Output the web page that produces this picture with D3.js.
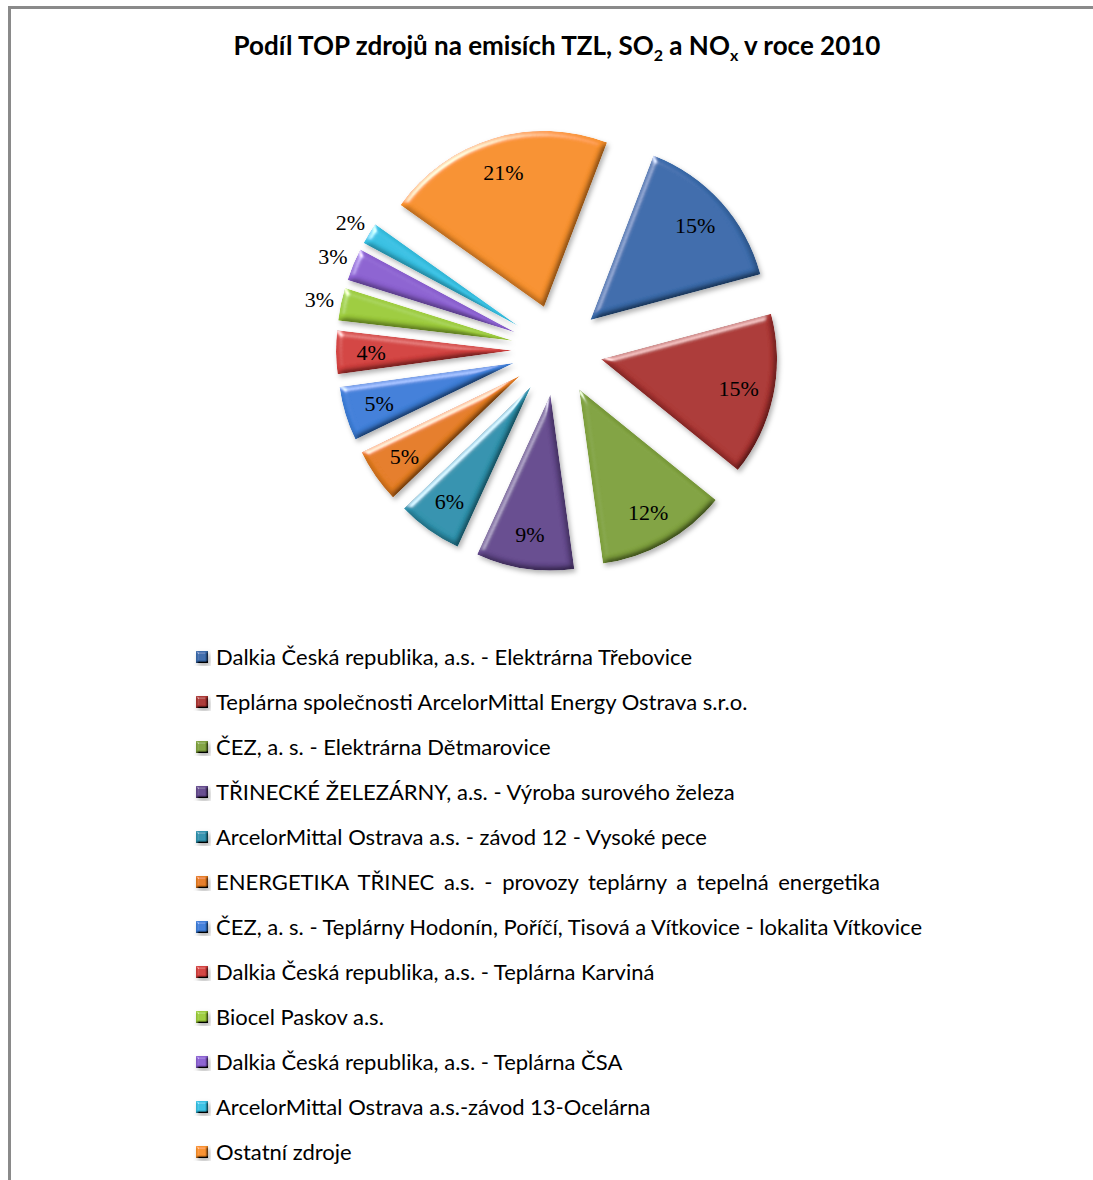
<!DOCTYPE html>
<html>
<head>
<meta charset="utf-8">
<script src="https://cdn.jsdelivr.net/npm/d3@7"></script>
<style>
  html, body { margin: 0; padding: 0; background: #ffffff; }
  svg { display: block; }
</style>
</head>
<body>
<svg id="chart" width="1093" height="1180"></svg>
<script>
// ---- data ----
const categories = [
  "Dalkia Česká republika, a.s. - Elektrárna Třebovice",
  "Teplárna společnosti ArcelorMittal Energy Ostrava s.r.o.",
  "ČEZ, a. s. - Elektrárna Dětmarovice",
  "TŘINECKÉ ŽELEZÁRNY, a.s. - Výroba surového železa",
  "ArcelorMittal Ostrava a.s. - závod 12 - Vysoké pece",
  "ENERGETIKA TŘINEC a.s. - provozy teplárny a tepelná energetika",
  "ČEZ, a. s. - Teplárny Hodonín, Poříčí, Tisová a Vítkovice - lokalita Vítkovice",
  "Dalkia Česká republika, a.s. - Teplárna Karviná",
  "Biocel Paskov a.s.",
  "Dalkia Česká republika, a.s. - Teplárna ČSA",
  "ArcelorMittal Ostrava a.s.-závod 13-Ocelárna",
  "Ostatní zdroje"
];
const values = [15, 15, 12, 9, 6, 5, 5, 4, 3, 3, 2, 21];
const colors = [
  "#3a6bab", "#ab3533", "#80a23e", "#654a8e", "#2e92ad", "#e47c20",
  "#3d7ed8", "#d2403e", "#9ccb3a", "#8b60d0", "#36c0e2", "#f7902c"
];
const titleParts = [
  { t: "Podíl TOP zdrojů na emisích TZL, SO", sub: false },
  { t: "2", sub: true },
  { t: " a NO", sub: false },
  { t: "x", sub: true },
  { t: " v roce 2010", sub: false }
];

// ---- layout ----
const svg = d3.select("#chart");
const W = 1093, H = 1180;

const defs = svg.append("defs");
function makeBevel(id, blur, scale) {
  const f = defs.append("filter").attr("id", id)
    .attr("x", "-20%").attr("y", "-20%").attr("width", "140%").attr("height", "140%");
  f.append("feGaussianBlur").attr("in", "SourceAlpha").attr("stdDeviation", blur).attr("result", "blur");
  // diffuse shading (flat area ≈ 1.0), darkens edges facing away from light
  const dif = f.append("feDiffuseLighting").attr("in", "blur").attr("surfaceScale", scale)
    .attr("diffuseConstant", 1 / Math.sin(55 * Math.PI / 180)).attr("lighting-color", "#ffffff")
    .attr("result", "diff");
  dif.append("feDistantLight").attr("azimuth", 235).attr("elevation", 55);
  f.append("feComposite").attr("in", "SourceGraphic").attr("in2", "diff").attr("operator", "arithmetic")
    .attr("k1", 1).attr("k2", 0).attr("k3", 0).attr("k4", 0).attr("result", "shaded");
  // specular highlight on edges facing the light
  const sp = f.append("feSpecularLighting").attr("in", "blur").attr("surfaceScale", scale)
    .attr("specularConstant", 0.7).attr("specularExponent", 25).attr("lighting-color", "#ffffff")
    .attr("result", "spec");
  sp.append("feDistantLight").attr("azimuth", 235).attr("elevation", 25);
  f.append("feComposite").attr("in", "spec").attr("in2", "SourceAlpha").attr("operator", "in").attr("result", "specIn");
  f.append("feComposite").attr("in", "shaded").attr("in2", "specIn").attr("operator", "arithmetic")
    .attr("k1", 0).attr("k2", 1).attr("k3", 1).attr("k4", 0).attr("result", "lit");
  f.append("feComposite").attr("in", "lit").attr("in2", "SourceAlpha").attr("operator", "in").attr("result", "litIn");
  f.append("feDropShadow").attr("in", "litIn").attr("dx", 2).attr("dy", 3).attr("stdDeviation", 2.5)
    .attr("flood-color", "#000").attr("flood-opacity", 0.3);
}
makeBevel("bevel", 3, 4);
makeBevel("bevelSmall", 1.2, 3);

// frame
svg.append("rect").attr("x", 0).attr("y", 0).attr("width", W).attr("height", H).attr("fill", "#ffffff");
svg.append("path")
  .attr("d", `M9.5,${H + 10} L9.5,7.5 L${W + 10},7.5`)
  .attr("fill", "none").attr("stroke", "#8a8a8a").attr("stroke-width", 3);

// title
const title = svg.append("text")
  .attr("x", 557).attr("y", 55)
  .attr("text-anchor", "middle")
  .attr("font-family", "Lato, 'Open Sans', sans-serif")
  .attr("font-weight", 700)
  .attr("font-size", 26)
  .attr("fill", "#000");
titleParts.forEach((p, i) => {
  const ts = title.append("tspan").text(p.t);
  if (p.sub) ts.attr("font-size", 16).attr("dy", 6);
  else if (i > 0 && titleParts[i - 1].sub) ts.attr("dy", -6);
});

// pie
const cx = 557, cy = 350, R = 176, explode = 45;
const startDeg = 21;
const pie = d3.pie().sort(null).value(d => d)
  .startAngle(startDeg * Math.PI / 180)
  .endAngle(startDeg * Math.PI / 180 + 2 * Math.PI);
const arcs = pie(values);
const arc = d3.arc().innerRadius(0).outerRadius(R);

const g = svg.append("g").attr("transform", `translate(${cx},${cy})`);
const slices = g.selectAll("g.slice").data(arcs).join("g").attr("class", "slice")
  .attr("transform", d => {
    const m = (d.startAngle + d.endAngle) / 2;
    return `translate(${explode * Math.sin(m)},${-explode * Math.cos(m)})`;
  });
slices.append("path").attr("d", arc)
  .attr("fill", (d, i) => colors[i])
  .attr("filter", "url(#bevel)");

// data labels
const total = d3.sum(values);
g.selectAll("text.lbl").data(arcs).join("text").attr("class", "lbl")
  .attr("transform", d => {
    const m = (d.startAngle + d.endAngle) / 2;
    const outside = d.value / total < 0.035;
    const r = outside ? explode + R + 22 : explode + R * 0.8;
    return `translate(${r * Math.sin(m)},${-r * Math.cos(m)})`;
  })
  .attr("text-anchor", "middle")
  .attr("dy", "0.35em")
  .attr("font-family", "'Liberation Serif', 'DejaVu Serif', serif")
  .attr("font-size", 22)
  .attr("fill", "#000")
  .text(d => Math.round(d.value / total * 100) + "%");

// legend
const legY0 = 657, legStep = 45, legX = 196;
const leg = svg.selectAll("g.leg").data(categories).join("g").attr("class", "leg")
  .attr("transform", (d, i) => `translate(${legX},${legY0 + i * legStep})`);
leg.append("rect").attr("x", 0).attr("y", -6).attr("width", 12).attr("height", 12)
  .attr("fill", (d, i) => colors[i]).attr("filter", "url(#bevelSmall)");
leg.append("text").attr("x", 20).attr("y", 0).attr("dy", "0.35em")
  .attr("font-family", "Lato, 'Open Sans', sans-serif")
  .attr("font-size", 22)
  .attr("fill", "#000")
  .attr("word-spacing", (d, i) => i === 5 ? 4 : null)
  .text(d => d);
</script>
</body>
</html>
